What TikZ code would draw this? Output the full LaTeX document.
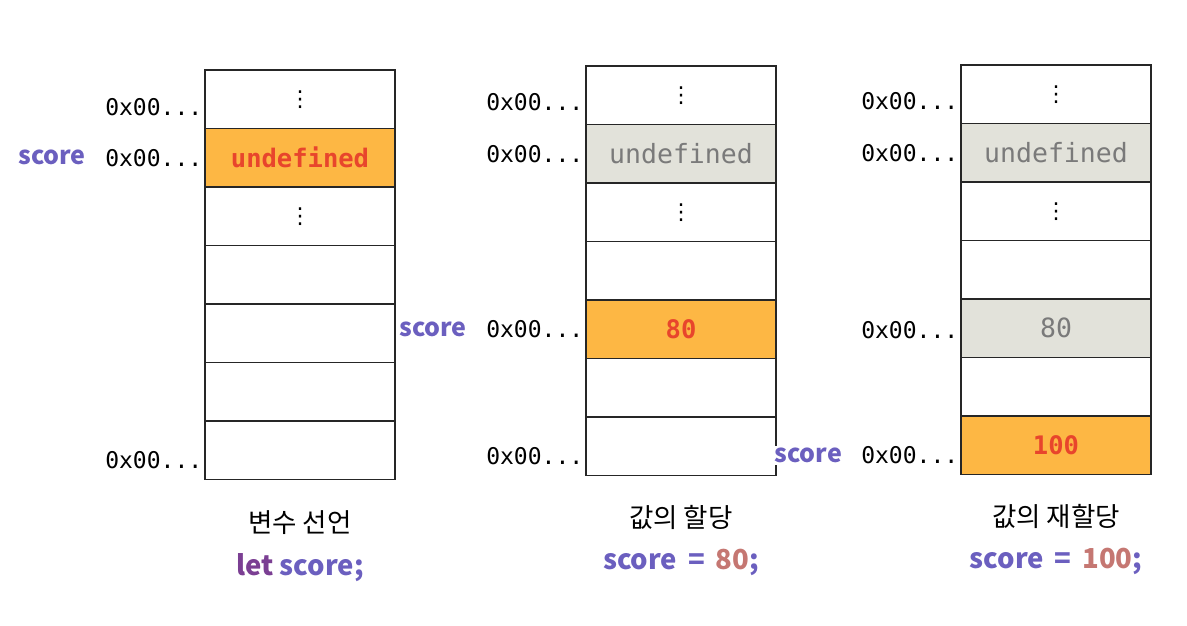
\documentclass[tikz,border=0pt]{standalone}
\usepackage{fontspec}
\usetikzlibrary{positioning}
\newfontfamily\kr{Noto Sans CJK KR}
\newfontfamily\memfont{DejaVu Sans Mono}
\newfontfamily\symfont{DejaVu Sans}
\newcommand\memvdots{{\symfont\fontsize{22}{22}\selectfont ⋮}}
\definecolor{memOrange}{HTML}{FDB744}
\definecolor{memRed}{HTML}{E8452C}
\definecolor{memGray}{HTML}{E2E2DA}
\definecolor{memGrayText}{HTML}{7A7A7A}
\definecolor{varPurple}{HTML}{6B5FBF}
\definecolor{kwPurple}{HTML}{7B3F93}
\definecolor{numRose}{HTML}{C57772}
\tikzset{
    cell/.style={draw=black!85, line width=1.2pt, minimum width=190pt, minimum height=58.5pt, inner sep=0pt, font=\memfont\fontsize{26.5}{26.5}\selectfont},
    cellnew/.style={cell, fill=memOrange, text=memRed, font=\memfont\bfseries\fontsize{25.5}{25.5}\selectfont},
    cellold/.style={cell, fill=memGray, text=memGrayText},
    addr/.style={inner sep=0pt, font=\memfont\fontsize{23}{23}\selectfont},
    varname/.style={inner sep=2pt, fill=white, text=varPurple, font=\kr\bfseries\fontsize{25}{25}\selectfont},
    caption/.style={inner sep=0pt, font=\kr\fontsize{26.5}{26.5}\selectfont},
    code/.style={inner sep=0pt, text=varPurple, font=\kr\bfseries\fontsize{27.5}{27.5}\selectfont}
}
\begin{document}
\begin{tikzpicture}[x=1pt, y=-1pt]
    \useasboundingbox (0,0) rectangle (1187,625);
    % declaration
    \foreach \i/\st/\tx in {1/cell/\memvdots, 2/cellnew/undefined, 3/cell/\memvdots, 4/cell/{}, 5/cell/{}, 6/cell/{}, 7/cell/{}}
        \node[\st] (d\i) at (300,{70+(\i-0.5)*58.5}) {\tx};
    \node[addr, left=2pt of d1, yshift=-8pt] (d1a) {0x00...};
    \node[addr, left=2pt of d2] (d2a) {0x00...};
    \node[addr, left=2pt of d7, yshift=-10pt] (d7a) {0x00...};
    \node[varname, left=17pt of d2a] (dvar) {score};
    \node[caption, below=30pt of d7] (dcap) {변수 선언};
    \node[code, below=19pt of dcap] (dcode) {\textcolor{kwPurple}{let} score;};
    % assignment
    \foreach \i/\st/\tx in {1/cell/\memvdots, 2/cellold/undefined, 3/cell/\memvdots, 4/cell/{}, 5/cellnew/80, 6/cell/{}, 7/cell/{}}
        \node[\st] (g\i) at (681,{66+(\i-0.5)*58.5}) {\tx};
    \node[addr, left=2pt of g1, yshift=-7pt] (g1a) {0x00...};
    \node[addr, left=2pt of g2] (g2a) {0x00...};
    \node[addr, left=2pt of g5] (g5a) {0x00...};
    \node[addr, left=2pt of g7, yshift=-10pt] (g7a) {0x00...};
    \node[varname, left=17pt of g5a] (gvar) {score};
    \node[caption, below=29pt of g7] (gcap) {값의 할당};
    \node[code, below=19pt of gcap] (gcode) {score \,=\, \textcolor{numRose}{80};};
    % reassignment
    \foreach \i/\st/\tx in {1/cell/\memvdots, 2/cellold/undefined, 3/cell/\memvdots, 4/cell/{}, 5/cellold/80, 6/cell/{}, 7/cellnew/100}
        \node[\st] (r\i) at (1056,{65+(\i-0.5)*58.5}) {\tx};
    \node[addr, left=2pt of r1, yshift=-7pt] (r1a) {0x00...};
    \node[addr, left=2pt of r2] (r2a) {0x00...};
    \node[addr, left=2pt of r5, yshift=-2pt] (r5a) {0x00...};
    \node[addr, left=2pt of r7, yshift=-10pt] (r7a) {0x00...};
    \node[varname, left=17pt of r7a] (rvar) {score};
    \node[caption, below=29pt of r7] (rcap) {값의 재할당};
    \node[code, below=19pt of rcap] (rcode) {score \,=\, \textcolor{numRose}{100};};
\end{tikzpicture}
\end{document}
